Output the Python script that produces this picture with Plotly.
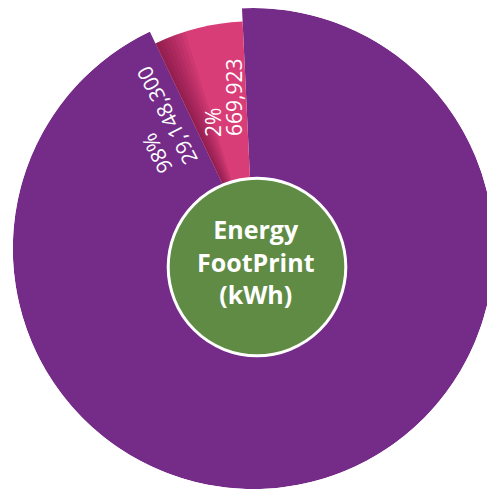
import plotly.graph_objects as go

# ---------------- data ----------------
categories = ["Other", "Energy FootPrint"]
values_kwh = [29148300, 669923]
pct_labels = ["98%", "2%"]
value_labels = ["29,148,300", "669,923"]
center_lines = ["Energy", "FootPrint", "(kWh)"]

# ---------------- style ----------------
W, H = 495, 494
OFF = 8                       # page body margin compensation (px)
colors = ["#752c89", "#d93d77"]
radii = [1.0, 0.945]          # relative outer radius of each wedge
MIN_SWEEP = 22.8              # small slice is enlarged for readability
START = -2.7                  # clockwise angle (deg from 12 o'clock) where first slice starts
CX, CY, R = 253.3 - OFF, 248.6 - OFF, 240.5   # pie centre / radius in px

total = sum(values_kwh)
shares = [v / total for v in values_kwh]
sweeps = [max(s * 360, MIN_SWEEP) for s in shares]
big = sweeps.index(max(sweeps))
sweeps[big] = 360 - (sum(sweeps) - sweeps[big])

thetas, starts = [], []
a = START
for sw in sweeps:
    starts.append(a)
    thetas.append(a + sw / 2)
    a += sw

fig = go.Figure()

# outer soft shadow (top-left)
for k in range(6):
    fig.add_trace(go.Barpolar(
        r=[0.012 * (k + 1)], base=[1.0], theta=[-62], width=[80],
        marker=dict(color="rgba(0,0,0,0.02)", line=dict(width=0)),
        hoverinfo="skip", showlegend=False))

fig.add_trace(go.Barpolar(
    r=radii, theta=thetas, width=sweeps,
    marker=dict(color=colors, line=dict(width=0)),
    text=categories, hoverinfo="text", showlegend=False))

# shadow on small slice along its left edge
s0 = starts[1]
for k in range(8):
    fig.add_trace(go.Barpolar(
        r=[radii[1]], theta=[s0 + (k + 1) * 0.5], width=[(k + 1) * 1.0],
        marker=dict(color="rgba(70,0,40,0.07)", line=dict(width=0)),
        hoverinfo="skip", showlegend=False))

def clamp(v):
    return min(1.0, max(0.0, v))

fig.update_layout(
    width=W, height=H,
    margin=dict(l=0, r=0, t=0, b=0),
    paper_bgcolor="white", plot_bgcolor="white",
    polar=dict(
        domain=dict(x=[clamp((CX - R) / W), clamp((CX + R) / W)],
                    y=[clamp(1 - (CY + R) / H), clamp(1 - (CY - R) / H)]),
        bgcolor="rgba(0,0,0,0)",
        barmode="overlay",
        radialaxis=dict(range=[0, 1], visible=False),
        angularaxis=dict(rotation=90, direction="clockwise", visible=False),
    ),
)

def px(x, y):
    return (x - OFF) / W, 1 - (y - OFF) / H

# centre green disc
gx, gy, gr = 257 - OFF, 267 - OFF, 88.8
fig.add_shape(type="circle", xref="paper", yref="paper",
              x0=(gx - gr) / W, x1=(gx + gr) / W,
              y0=1 - (gy + gr) / H, y1=1 - (gy - gr) / H,
              fillcolor="#5f8b45", line=dict(color="white", width=3))

xp, yp = px(256, 262)
fig.add_annotation(x=xp, y=yp, xref="paper", yref="paper",
                   text="<br>".join(center_lines),
                   showarrow=False, xanchor="center", yanchor="middle", align="center",
                   font=dict(family="Open Sans", size=25, color="white", weight="bold"))

# slice labels
label_specs = [
    (pct_labels[0], 157, 154, -117),
    (value_labels[0], 167, 116, -117),
    (pct_labels[1], 213, 123, -90),
    (value_labels[1], 234, 98, -90),
]
for txt, x, y, ang in label_specs:
    xp, yp = px(x, y)
    fig.add_annotation(x=xp, y=yp, xref="paper", yref="paper", text=txt,
                       showarrow=False, textangle=ang,
                       xanchor="center", yanchor="middle",
                       font=dict(family="Open Sans", size=21, color="white"))

fig.write_html("out.html")
